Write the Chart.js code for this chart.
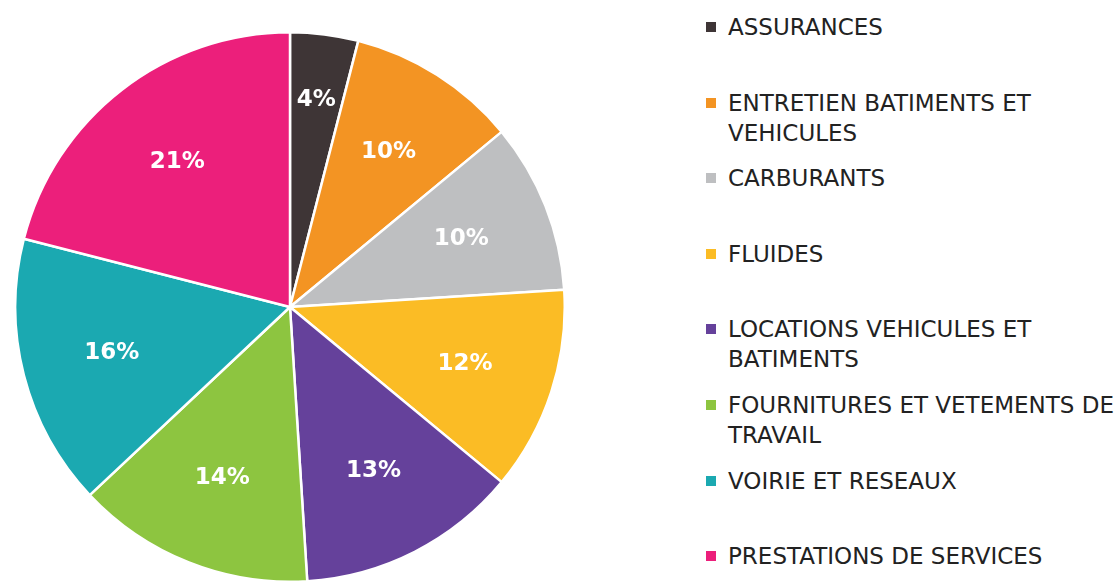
<!DOCTYPE html>
<html>
<head>
<meta charset="utf-8">
<script src="https://cdn.jsdelivr.net/npm/chart.js@4.4.1/dist/chart.umd.min.js"></script>
<style>
  html, body { margin: 0; padding: 0; background: #fff; overflow: hidden; }
  body { width: 1116px; height: 581px; position: relative; font-family: "DejaVu Sans", sans-serif; }
  #pieBox { position: absolute; left: 14px; top: 31px; width: 552px; height: 552px; }
  #legend { position: absolute; left: 706px; top: 0; width: 410px; }
  .item { position: absolute; left: 0; width: 410px; color: #222; font-size: 23px; line-height: 30px; }
  .item .sw { position: absolute; left: 0; top: 10px; width: 10px; height: 10px; }
  .item .tx { margin-left: 22px; width: 388px; }
</style>
</head>
<body>
<div id="pieBox"><canvas id="pie"></canvas></div>
<div id="legend"></div>
<script>
// chart data
var categories = [
  "ASSURANCES",
  "ENTRETIEN BATIMENTS ET VEHICULES",
  "CARBURANTS",
  "FLUIDES",
  "LOCATIONS VEHICULES ET BATIMENTS",
  "FOURNITURES ET VETEMENTS DE TRAVAIL",
  "VOIRIE ET RESEAUX",
  "PRESTATIONS DE SERVICES"
];
var shares = [4, 10, 10, 12, 13, 14, 16, 21];
var colors = ["#3e3536", "#f39423", "#bebfc1", "#fbbc25", "#65419b", "#8dc540", "#1ba9b1", "#ec1f7b"];

// draws the percent labels inside each slice
var sliceLabels = {
  id: "sliceLabels",
  afterDatasetsDraw: function(chart) {
    var ctx = chart.ctx;
    var meta = chart.getDatasetMeta(0);
    var total = shares.reduce(function(a, b) { return a + b; }, 0);
    ctx.save();
    ctx.fillStyle = "#fff";
    ctx.font = "bold 23px 'DejaVu Sans', sans-serif";
    ctx.textAlign = "center";
    ctx.textBaseline = "middle";
    meta.data.forEach(function(arc, i) {
      var p = arc.getProps(["x", "y", "startAngle", "endAngle", "outerRadius"], true);
      var mid = (p.startAngle + p.endAngle) / 2;
      var f = shares[i] / total < 0.05 ? 0.76 : 0.67;
      var x = p.x + Math.cos(mid) * p.outerRadius * f;
      var y = p.y + Math.sin(mid) * p.outerRadius * f;
      ctx.fillText(shares[i] + "%", x, y);
    });
    ctx.restore();
  }
};

new Chart(document.getElementById("pie"), {
  type: "pie",
  data: {
    labels: categories,
    datasets: [{
      data: shares,
      backgroundColor: colors,
      borderColor: "#fff",
      borderWidth: 2.5
    }]
  },
  options: {
    responsive: true,
    maintainAspectRatio: false,
    animation: false,
    layout: { padding: 0 },
    plugins: {
      legend: { display: false },
      tooltip: { enabled: false }
    }
  },
  plugins: [sliceLabels]
});

// legend, one slot per category
var legend = document.getElementById("legend");
categories.forEach(function(name, i) {
  var item = document.createElement("div");
  item.className = "item";
  item.style.top = (12 + i * 75.6) + "px";
  var sw = document.createElement("div");
  sw.className = "sw";
  sw.style.background = colors[i];
  var tx = document.createElement("div");
  tx.className = "tx";
  tx.textContent = name;
  item.appendChild(sw);
  item.appendChild(tx);
  legend.appendChild(item);
});
</script>
</body>
</html>
